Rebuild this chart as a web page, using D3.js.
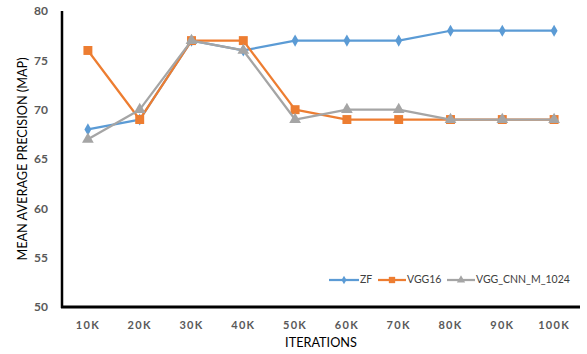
<!DOCTYPE html>
<html>
<head>
<meta charset="utf-8">
<script src="https://cdn.jsdelivr.net/npm/d3@7"></script>
<style>
  html, body { margin: 0; padding: 0; background: #fff; }
  svg { display: block; font-family: Lato, "Open Sans", sans-serif; }
</style>
</head>
<body>
<svg id="chart" width="587" height="354"></svg>
<script>
// Iteration checkpoints and mAP per network
const iterations = ["10K", "20K", "30K", "40K", "50K", "60K", "70K", "80K", "90K", "100K"];
const zf = [68, 69, 77, 76, 77, 77, 77, 78, 78, 78];
const vgg16 = [76, 69, 77, 77, 70, 69, 69, 69, 69, 69];
const vggCnnM1024 = [67, 70, 77, 76, 69, 70, 70, 69, 69, 69];
const yTicks = [50, 55, 60, 65, 70, 75, 80];

const series = [
  { name: "ZF", values: zf, color: "#5B9BD5", symbol: d3.symbolDiamond, size: 42 },
  { name: "VGG16", values: vgg16, color: "#ED7D31", symbol: d3.symbolSquare, size: 80 },
  { name: "VGG_CNN_M_1024", values: vggCnnM1024, color: "#A5A5A5", symbol: d3.symbolTriangle, size: 60 }
];

const svg = d3.select("#chart");
const plotLeft = 62, plotRight = 580, plotTop = 11, plotBottom = 307;

const x = d3.scaleBand().domain(iterations).range([plotLeft, plotRight]);
const y = d3.scaleLinear().domain([50, 80]).range([plotBottom, plotTop]);

// Y axis: labels only, plus a black spine
const yAxis = svg.append("g")
  .attr("transform", `translate(${plotLeft},0)`)
  .call(d3.axisLeft(y).tickValues(yTicks).tickSize(0).tickPadding(14));
yAxis.select(".domain").remove();
yAxis.selectAll("text")
  .attr("fill", "#595959").attr("font-size", 12).attr("font-weight", "bold")
  .attr("font-family", "Lato, 'Open Sans', sans-serif");

const xAxis = svg.append("g")
  .attr("transform", `translate(0,${plotBottom})`)
  .call(d3.axisBottom(x).tickSize(0).tickPadding(14));
xAxis.select(".domain").remove();
xAxis.selectAll("text")
  .attr("fill", "#595959").attr("font-size", 11).attr("font-weight", "bold")
  .attr("letter-spacing", "1.3px")
  .attr("font-family", "Lato, 'Open Sans', sans-serif");

svg.append("line")
  .attr("x1", plotLeft).attr("x2", plotLeft).attr("y1", plotTop).attr("y2", plotBottom + 1)
  .attr("stroke", "#000").attr("stroke-width", 2.5);
svg.append("line")
  .attr("x1", plotLeft - 1).attr("x2", plotRight).attr("y1", plotBottom).attr("y2", plotBottom)
  .attr("stroke", "#000").attr("stroke-width", 3);

// Axis titles
svg.append("text")
  .attr("transform", `translate(24,${(plotTop + plotBottom) / 2}) rotate(-90)`)
  .attr("text-anchor", "middle").attr("dominant-baseline", "middle")
  .attr("font-size", 12.7).attr("fill", "#000")
  .text("MEAN AVERAGE PRECISION (MAP)");
svg.append("text")
  .attr("x", (plotLeft + plotRight) / 2).attr("y", 347)
  .attr("text-anchor", "middle").attr("font-size", 12.7).attr("fill", "#000")
  .text("ITERATIONS");

// Lines and markers
const cx = d => x(d) + x.bandwidth() / 2;
const line = d3.line().x((v, i) => cx(iterations[i])).y(v => y(v));

series.forEach(s => {
  const g = svg.append("g");
  g.append("path")
    .attr("d", line(s.values))
    .attr("fill", "none").attr("stroke", s.color).attr("stroke-width", 2.25)
    .attr("stroke-linejoin", "round");
  g.selectAll("path.mark")
    .data(s.values)
    .join("path")
    .attr("class", "mark")
    .attr("transform", (v, i) => `translate(${cx(iterations[i])},${y(v)})`)
    .attr("d", d3.symbol().type(s.symbol).size(s.size))
    .attr("fill", s.color);
});

// Legend
const legendY = 280;
const legendItems = [
  { x: 329, w: 30 },
  { x: 378, w: 28 },
  { x: 447, w: 28 }
];
series.forEach((s, i) => {
  const it = legendItems[i];
  const g = svg.append("g");
  g.append("line")
    .attr("x1", it.x).attr("x2", it.x + it.w).attr("y1", legendY).attr("y2", legendY)
    .attr("stroke", s.color).attr("stroke-width", 2.25);
  g.append("path")
    .attr("transform", `translate(${it.x + it.w / 2},${legendY})`)
    .attr("d", d3.symbol().type(s.symbol).size(s.size * 0.5))
    .attr("fill", s.color);
  g.append("text")
    .attr("x", it.x + it.w + 1).attr("y", legendY)
    .attr("dominant-baseline", "middle")
    .attr("font-size", 10.5).attr("fill", "#404040")
    .text(s.name);
});
</script>
</body>
</html>
